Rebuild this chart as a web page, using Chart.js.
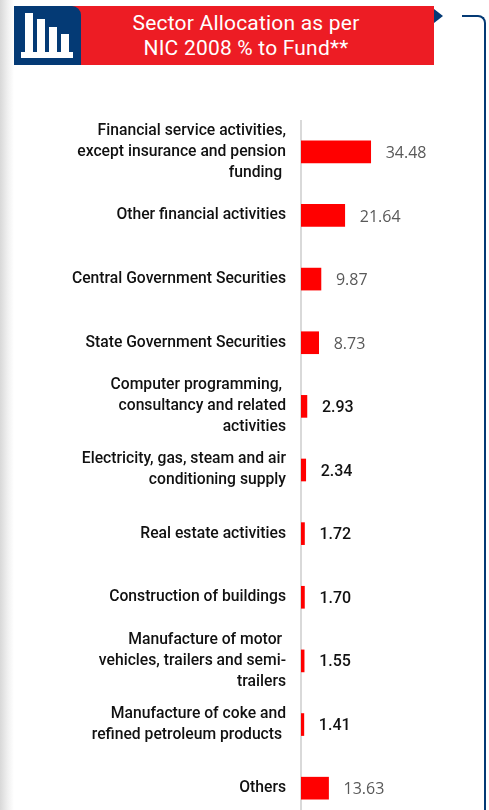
<!DOCTYPE html>
<html>
<head>
<meta charset="utf-8">
<script src="https://cdn.jsdelivr.net/npm/chart.js@4"></script>
<style>
  html, body { margin: 0; padding: 0; background: #fff; }
  body { width: 489px; height: 810px; overflow: hidden; position: relative; font-family: Roboto, sans-serif; }
  #edge { position: absolute; left: 0; top: 0; width: 14px; height: 810px; background: linear-gradient(to right, #d8d8d8, #f0f0f0 55%, #fff); }
  #banner { position: absolute; left: 14px; top: 6px; width: 420px; height: 59px; background: #ed1c24; color: #fff; text-align: center; font-size: 21px; line-height: 25px; }
  #banner div { position: absolute; left: 44px; right: 0; top: 5px; letter-spacing: 0.2px; }
  #icon { position: absolute; left: 14px; top: 6px; width: 67px; height: 59px; background: #043a75; border-top-right-radius: 9px; }
  #tip { position: absolute; left: 434px; top: 9px; width: 0; height: 0; border-left: 9px solid #043a75; border-top: 7px solid transparent; border-bottom: 7px solid transparent; }
  #rail { position: absolute; left: 462px; top: 15px; width: 22px; height: 900px; border-top: 2px solid #043a75; border-right: 2px solid #043a75; border-top-right-radius: 8px; }
  #wrap { position: absolute; left: 0; top: 120px; width: 489px; height: 700px; }
</style>
</head>
<body>
<div id="edge"></div>
<div id="banner"><div>Sector Allocation as per<br>NIC 2008 % to Fund**</div></div>
<div id="icon">
  <svg width="67" height="59" viewBox="0 0 67 59">
    <rect x="7" y="46" width="52" height="6" fill="#fff"/>
    <rect x="11" y="7" width="8" height="40" fill="#fff"/>
    <rect x="23" y="13" width="8" height="34" fill="#fff"/>
    <rect x="35" y="21" width="8" height="26" fill="#fff"/>
    <rect x="47" y="28" width="8" height="19" fill="#fff"/>
  </svg>
</div>
<div id="tip"></div>
<div id="rail"></div>
<div id="wrap"><canvas id="sector-chart" width="489" height="700"></canvas></div>
<script>
  const sectors = [
    ["Financial service activities,", "except insurance and pension", "funding "],
    "Other financial activities",
    "Central Government Securities",
    "State Government Securities",
    ["Computer programming, ", "consultancy and related", "activities"],
    ["Electricity, gas, steam and air", "conditioning supply"],
    "Real estate activities",
    "Construction of buildings",
    ["Manufacture of motor ", "vehicles, trailers and semi-", "trailers"],
    ["Manufacture of coke and", "refined petroleum products "],
    "Others"
  ];
  const allocation = [34.48, 21.64, 9.87, 8.73, 2.93, 2.34, 1.72, 1.70, 1.55, 1.41, 13.63];

  // value labels sit a fixed gap past the bar end, small ones are darker
  const valueLabels = {
    id: "valueLabels",
    afterDatasetsDraw(chart) {
      const c = chart.ctx;
      const meta = chart.getDatasetMeta(0);
      c.save();
      c.textBaseline = "middle";
      c.textAlign = "left";
      meta.data.forEach((bar, i) => {
        const v = allocation[i];
        if (v < 5) {
          c.font = "500 16px Roboto";
          c.fillStyle = "#111111";
        } else {
          c.font = "16px 'Open Sans'";
          c.fillStyle = "#595959";
        }
        c.fillText(v.toFixed(2), bar.x + 15, bar.y + 1.5);
      });
      c.restore();
    }
  };

  new Chart(document.getElementById("sector-chart"), {
    type: "bar",
    data: {
      labels: sectors,
      datasets: [{
        data: allocation,
        backgroundColor: "#ff0000",
        barThickness: 22,
      }],
    },
    options: {
      indexAxis: "y",
      responsive: false,
      animation: false,
      plugins: { legend: { display: false }, tooltip: { enabled: false } },
      scales: {
        x: { display: false, min: 0, max: 93 },
        y: {
          afterFit: (s) => { s.width = 301; s.paddingTop = 0; s.paddingBottom = 0; },
          grid: { display: false, drawTicks: false },
          border: { color: "#d9d9d9", width: 2 },
          ticks: {
            color: "#111111",
            padding: 15,
            font: { family: "Roboto", size: 15.7, weight: "500", lineHeight: 1.34 },
            autoSkip: false,
          },
        },
      },
    },
    plugins: [valueLabels],
  });
</script>
</body>
</html>
